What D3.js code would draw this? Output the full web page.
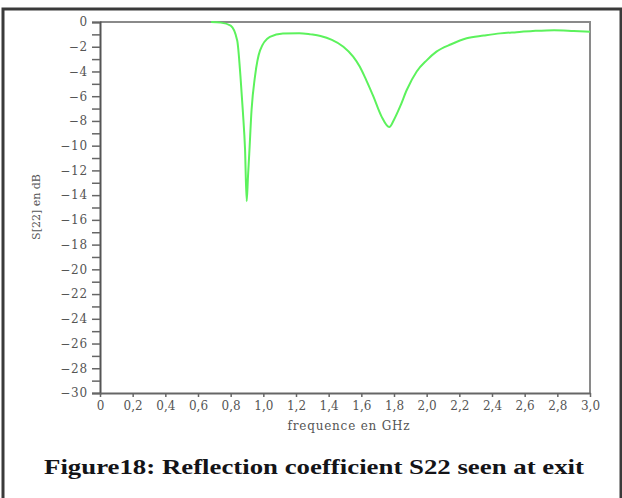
<!DOCTYPE html>
<html>
<head>
<meta charset="utf-8">
<script src="https://cdn.jsdelivr.net/npm/d3@7"></script>
<style>
  body { margin: 0; background: #fff; }
  svg { display: block; }
</style>
</head>
<body>
<svg id="chart"></svg>
<script>
// S22 curve (GHz, dB)
const freq = [0.68, 0.74, 0.80, 0.84, 0.86, 0.875, 0.888, 0.898, 0.906, 0.914, 0.928, 0.949, 0.98,
              1.04, 1.12, 1.22, 1.29, 1.35, 1.42, 1.49, 1.55, 1.59, 1.63, 1.673, 1.724, 1.771,
              1.80, 1.837, 1.878, 1.939, 2.0, 2.06, 2.15, 2.245, 2.35, 2.45, 2.55, 2.65, 2.78, 2.9, 3.0];
const s22 = [0, -0.05, -0.3, -1.5, -4.4, -7.3, -10.3, -14.5, -12.5, -10.6, -7.1, -4.4, -2.3,
             -1.2, -0.92, -0.9, -1.0, -1.13, -1.45, -2.0, -2.8, -3.6, -4.7, -6.0, -7.65, -8.5,
             -7.9, -6.85, -5.5, -4.0, -3.1, -2.4, -1.8, -1.32, -1.1, -0.92, -0.82, -0.73, -0.66, -0.72, -0.78];

const xTicks = [0, 0.2, 0.4, 0.6, 0.8, 1.0, 1.2, 1.4, 1.6, 1.8, 2.0, 2.2, 2.4, 2.6, 2.8, 3.0];
const yMinor = d3.range(0, -31, -1);

const width = 622;
const height = 498;

const x = d3.scaleLinear().domain([0, 3]).range([100, 590]);
const y = d3.scaleLinear().domain([0, -30]).range([22, 393]);

const svg = d3.select("#chart")
    .attr("width", width)
    .attr("height", height);

// outer frame
svg.append("rect")
    .attr("x", 3).attr("y", 9)
    .attr("width", 618).attr("height", 500)
    .attr("fill", "none")
    .attr("stroke", "#3a3a3a")
    .attr("stroke-width", 3);

// plot box top / right (gray)
svg.append("path")
    .attr("d", `M${x(0)},${y(0)}H${x(3)}V${y(-30)}`)
    .attr("fill", "none")
    .attr("stroke", "#8a8a8a")
    .attr("stroke-width", 2);

// y axis, labels every 2 dB
const yAxis = d3.axisLeft(y)
    .tickValues(yMinor)
    .tickSize(8)
    .tickFormat(d => d % 2 === 0 ? (d === 0 ? "0" : "\u2212" + Math.abs(d)) : "");
const gy = svg.append("g")
    .attr("transform", `translate(${x(0)},0)`)
    .call(yAxis);
gy.select(".domain").attr("stroke", "#555").attr("stroke-width", 2);
gy.selectAll(".tick line").attr("stroke", "#666").attr("stroke-width", 1.5);
gy.selectAll(".tick text")
    .attr("x", -12)
    .attr("fill", "#555")
    .style("font-family", "'DejaVu Serif', serif")
    .style("font-size", "12px")
    .style("letter-spacing", "0.8px");

// x axis
const xAxis = d3.axisBottom(x)
    .tickValues(xTicks)
    .tickSize(4)
    .tickSizeOuter(0)
    .tickFormat(d => d === 0 ? "0" : d3.format(".1f")(d).replace(".", ","));
const gx = svg.append("g")
    .attr("transform", `translate(0,${y(-30)})`)
    .call(xAxis);
gx.select(".domain").attr("stroke", "#666").attr("stroke-width", 2);
gx.selectAll(".tick line").attr("stroke", "#666").attr("stroke-width", 1.5);
gx.selectAll(".tick text")
    .attr("y", 8)
    .attr("fill", "#555")
    .style("font-family", "'DejaVu Serif', serif")
    .style("font-size", "12px");

// curve
const line = d3.line()
    .x((d, i) => x(freq[i]))
    .y(d => y(d))
    .curve(d3.curveMonotoneX);

svg.append("path")
    .datum(s22)
    .attr("d", line)
    .attr("fill", "none")
    .attr("stroke", "#5cf25c")
    .attr("stroke-width", 2);

// axis labels
svg.append("text")
    .attr("x", (x(0) + x(3)) / 2 + 4)
    .attr("y", 430)
    .attr("text-anchor", "middle")
    .attr("fill", "#555")
    .style("font-family", "'DejaVu Serif', serif")
    .style("font-size", "12px")
    .style("letter-spacing", "0.8px")
    .text("frequence en GHz");

svg.append("text")
    .attr("transform", "rotate(-90)")
    .attr("x", -207)
    .attr("y", 40)
    .attr("text-anchor", "middle")
    .attr("fill", "#555")
    .style("font-family", "'DejaVu Serif', serif")
    .style("font-size", "11px")
    .text("S[22] en dB");

// caption
svg.append("text")
    .attr("x", 314)
    .attr("y", 474)
    .attr("text-anchor", "middle")
    .attr("fill", "#141418")
    .attr("textLength", 540)
    .attr("lengthAdjust", "spacingAndGlyphs")
    .style("font-family", "'Liberation Serif', serif")
    .style("font-weight", "bold")
    .style("font-size", "20px")
    .text("Figure18: Reflection coefficient S22 seen at exit");
</script>
</body>
</html>
